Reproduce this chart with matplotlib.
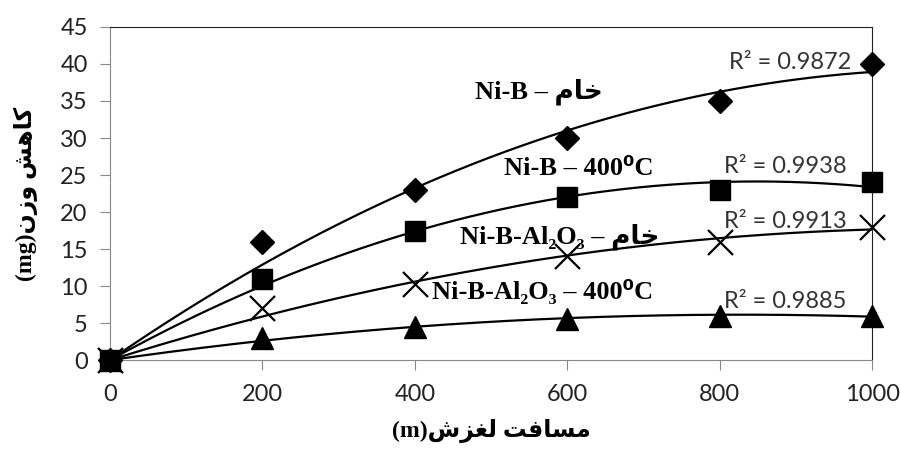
import numpy as np
import matplotlib
matplotlib.use("Agg")
import matplotlib.pyplot as plt

# data
distance = [0, 200, 400, 600, 800, 1000]
nib_raw = [0, 16, 23, 30, 35, 40]
nib_400 = [0, 11, 17.5, 22, 23, 24]
nibal_raw = [0, 7, 10.3, 14, 16, 18]
nibal_400 = [0, 3, 4.5, 5.5, 6, 6]

r2_labels = ["R\u00b2 = 0.9872", "R\u00b2 = 0.9938", "R\u00b2 = 0.9913", "R\u00b2 = 0.9885"]

# persian words, pre-shaped (presentation forms, visual order)
kham = "\uFEE1\uFE8E\uFEA7"
series_labels = [
    "Ni-B \u2013 " + kham,
    "Ni-B \u2013 400\u2070C",
    "Ni-B-Al\u2082O\u2083 \u2013 " + kham,
    "Ni-B-Al\u2082O\u2083 \u2013 400\u2070C",
]
ylabel = "(mg)" + "\uFEE5\uFEAF\uFEED" + " " + "\uFEB6\uFEEB\uFE8E\uFB90"
xlabel = "(m)" + "\uFEB5\uFEB0\uFED0\uFEDF" + " " + "\uFE96\uFED3\uFE8E\uFEB4\uFEE3"

series = [nib_raw, nib_400, nibal_raw, nibal_400]
markers = [("D", 12), ("s", 15), ("x", 18), ("^", 16)]
label_pos = [(563, 36.2), (615, 25.9), (590, 16.6), (567, 9.3)]
r2_pos = [(892, 40.2), (886, 26.2), (886, 18.7), (886, 7.9)]

fig = plt.figure(figsize=(9.01, 4.57), dpi=100)
ax = fig.add_axes([0.122, 0.212, 0.846, 0.729])

serif = ["Liberation Serif", "DejaVu Sans"]
xs = np.linspace(0, 1000, 200)
x = np.array(distance, dtype=float)
for ys, (m, ms), lab, lp, r2, rp in zip(series, markers, series_labels, label_pos, r2_labels, r2_pos):
    # 2nd order trendline through the origin
    A = np.column_stack([x, x ** 2])
    a, b = np.linalg.lstsq(A, np.array(ys, dtype=float), rcond=None)[0]
    ax.plot(xs, a * xs + b * xs ** 2, color="black", lw=1.6, zorder=2)
    if m == "x":
        ax.plot(distance, ys, ls="none", marker=m, ms=ms, mew=1.6, color="black", zorder=3, clip_on=False)
    else:
        ax.plot(distance, ys, ls="none", marker=m, ms=ms, color="black", zorder=3, clip_on=False)
    ax.text(lp[0], lp[1], lab, family=serif, weight="bold", fontsize=19, ha="center", va="center")
    ax.text(rp[0], rp[1], r2, family="Lato", fontsize=17, ha="center", va="center", color="#333333")

ax.set_xlim(0, 1000)
ax.set_ylim(0, 45)
ax.set_xticks(range(0, 1001, 200))
ax.set_yticks(range(0, 46, 5))
for sp in ["left", "bottom"]:
    ax.spines[sp].set_color("#888888")
for sp in ["top", "right"]:
    ax.spines[sp].set_color("#222222")
ax.tick_params(direction="out", length=7, color="#888888", labelsize=17)
for t in ax.get_xticklabels() + ax.get_yticklabels():
    t.set_family("Lato")
    t.set_color("#222222")
ax.tick_params(axis="x", pad=10)
ax.tick_params(axis="y", pad=9)

ax.set_xlabel(xlabel, family=serif, weight="bold", fontsize=17, labelpad=10)
ax.set_ylabel(ylabel, family=serif, weight="bold", fontsize=17, labelpad=16)

fig.savefig("out.png", dpi=100)
